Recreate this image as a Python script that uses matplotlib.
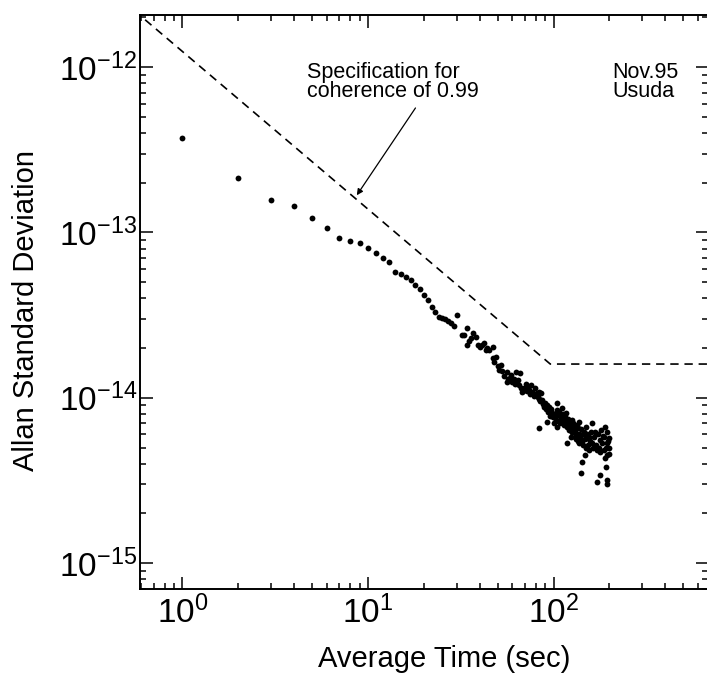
import numpy as np
import matplotlib
matplotlib.use("Agg")
import matplotlib.pyplot as plt
from matplotlib.ticker import LogLocator, NullFormatter, FixedLocator

plt.rcParams['font.family'] = ['Liberation Sans', 'DejaVu Sans']
plt.rcParams['mathtext.fontset'] = 'custom'
plt.rcParams['mathtext.rm'] = 'Liberation Sans'
plt.rcParams['mathtext.it'] = 'Liberation Sans:italic'
plt.rcParams['mathtext.bf'] = 'Liberation Sans:bold'

# measured Allan deviation (tau in s, sigma in units of 1e-14)
tau = [1, 2, 3, 4, 5, 6, 7, 8, 9, 10,
       11, 12, 13, 14, 15, 16, 17, 18, 19, 20,
       21, 22, 23, 24, 25, 26, 27, 28, 29, 30,
       32, 33, 34, 34, 35, 36, 37, 38, 39, 40,
       41, 42, 43, 44, 45, 47, 47, 48, 49, 50,
       51, 52, 53, 54, 56, 56, 57, 58, 59, 60,
       61, 62, 63, 64, 65, 66, 67, 68, 69, 70,
       71, 72, 73, 74, 75, 76, 77, 78, 79, 80,
       81, 82, 83, 84, 84, 85, 86, 87, 88, 89,
       90, 91, 92, 92, 93, 94, 95, 96, 97, 98,
       99, 100, 101, 102, 103, 104, 104, 104, 105, 106,
       107, 108, 109, 110, 111, 112, 113, 114, 115, 116,
       117, 118, 118, 119, 120, 121, 122, 123, 124, 125,
       126, 126, 127, 128, 129, 130, 131, 132, 133, 134,
       135, 136, 137, 138, 138, 139, 140, 141, 142, 143,
       144, 145, 146, 147, 148, 149, 150, 150, 152, 153,
       155, 156, 158, 160, 162, 162, 164, 165, 167, 169,
       171, 171, 173, 175, 177, 177, 179, 181, 183, 184,
       186, 187, 189, 189, 191, 191, 193, 194, 194, 194,
       194, 196, 198, 200, 200]
sigma = [37.3, 21.5, 15.8, 14.4, 12.3, 10.7, 9.25, 8.9, 8.65, 8.07,
         7.5, 7.0, 6.6, 5.75, 5.6, 5.37, 5.14, 4.80, 4.54, 4.18,
         3.89, 3.53, 3.30, 3.07, 3.03, 2.99, 2.91, 2.85, 2.70, 3.16,
         2.39, 2.39, 2.63, 2.08, 2.20, 2.29, 2.45, 2.33, 2.10, 2.02,
         2.08, 2.14, 1.94, 2.00, 1.94, 2.02, 1.74, 1.65, 1.76, 1.55,
         1.47, 1.57, 1.45, 1.35, 1.24, 1.43, 1.30, 1.32, 1.37, 1.25,
         1.30, 1.22, 1.43, 1.28, 1.20, 1.41, 1.14, 1.08, 1.15, 1.12,
         1.22, 1.10, 1.15, 1.11, 1.05, 1.19, 1.08, 1.02, 1.14, 1.05,
         1.07, 1.01, 0.98, 1.08, 0.655, 0.95, 1.07, 0.967, 0.92, 0.88,
         0.93, 0.85, 0.90, 0.71, 0.82, 0.88, 0.84, 0.78, 0.85, 0.81,
         0.76, 0.80, 0.70, 0.78, 0.73, 0.93, 0.84, 0.665, 0.80, 0.72,
         0.82, 0.70, 0.78, 0.76, 0.865, 0.74, 0.80, 0.68, 0.72, 0.76,
         0.81, 0.665, 0.535, 0.70, 0.74, 0.64, 0.71, 0.68, 0.58, 0.62,
         0.73, 0.62, 0.66, 0.70, 0.62, 0.577, 0.64, 0.56, 0.68, 0.60,
         0.55, 0.66, 0.60, 0.71, 0.535, 0.58, 0.65, 0.35, 0.55, 0.41,
         0.60, 0.52, 0.62, 0.45, 0.56, 0.50, 0.665, 0.57, 0.60, 0.52,
         0.58, 0.48, 0.55, 0.62, 0.70, 0.53, 0.50, 0.58, 0.62, 0.52,
         0.48, 0.31, 0.60, 0.50, 0.554, 0.34, 0.47, 0.64, 0.53, 0.59,
         0.58, 0.48, 0.665, 0.43, 0.50, 0.38, 0.62, 0.535, 0.45, 0.32,
         0.30, 0.55, 0.46, 0.50, 0.57]
sigma_unit = 1e-14

# specification for coherence of 0.99
tau_spec = [0.55, 96, 1000]
sigma_spec = [2.2e-12, 1.6e-14, 1.6e-14]

x_major = [1, 10, 100]
y_major = [1e-15, 1e-14, 1e-13, 1e-12]

fig = plt.figure(figsize=(7.07, 6.78), dpi=100)
ax = fig.add_axes([0.198, 0.1313, 0.8034, 0.8466])

ax.plot(tau_spec, sigma_spec, color='black', lw=1.2, dashes=(5, 3.5))
ax.plot(tau, np.array(sigma) * sigma_unit, 'o', color='black', ms=4.2,
        mec='black', mew=0)

ax.set_xscale('log')
ax.set_yscale('log')
ax.set_xlim(0.59, 680)
ax.set_ylim(6.97e-16, 2.07e-12)

ax.xaxis.set_major_locator(FixedLocator(x_major))
ax.yaxis.set_major_locator(FixedLocator(y_major))
ax.xaxis.set_minor_locator(LogLocator(base=10, subs=np.arange(2, 10), numticks=20))
ax.yaxis.set_minor_locator(LogLocator(base=10, subs=np.arange(2, 10), numticks=20))
ax.xaxis.set_minor_formatter(NullFormatter())
ax.yaxis.set_minor_formatter(NullFormatter())

ax.tick_params(which='both', direction='in', top=True, right=True, width=1.1,
               color='black')
ax.tick_params(which='major', length=9, labelsize=24)
ax.tick_params(which='minor', length=4.5)
ax.tick_params(axis='y', which='major', pad=2)
ax.tick_params(axis='x', which='major', pad=5)
for sp in ax.spines.values():
    sp.set_linewidth(1.4)

ax.set_xlabel('Average Time (sec)', fontsize=21)
ax.set_ylabel('Allan Standard Deviation', fontsize=21)
ax.xaxis.set_label_coords(0.535, -0.097)
ax.yaxis.set_label_coords(-0.176, 0.485)

ax.text(0.2945, 0.918, 'Specification for\ncoherence of 0.99', transform=ax.transAxes,
        fontsize=15.5, va='top', ha='left', linespacing=0.88)
ax.text(0.832, 0.918, 'Nov.95\nUsuda', transform=ax.transAxes,
        fontsize=15.5, va='top', ha='left', linespacing=0.88)
ax.annotate('', xy=(8.7, 1.68e-13), xycoords='data',
            xytext=(0.485, 0.838), textcoords='axes fraction',
            arrowprops=dict(arrowstyle='-|>', lw=0.9, color='black',
                            shrinkA=0, shrinkB=0, mutation_scale=9))

fig.savefig('out.png', dpi=100)
